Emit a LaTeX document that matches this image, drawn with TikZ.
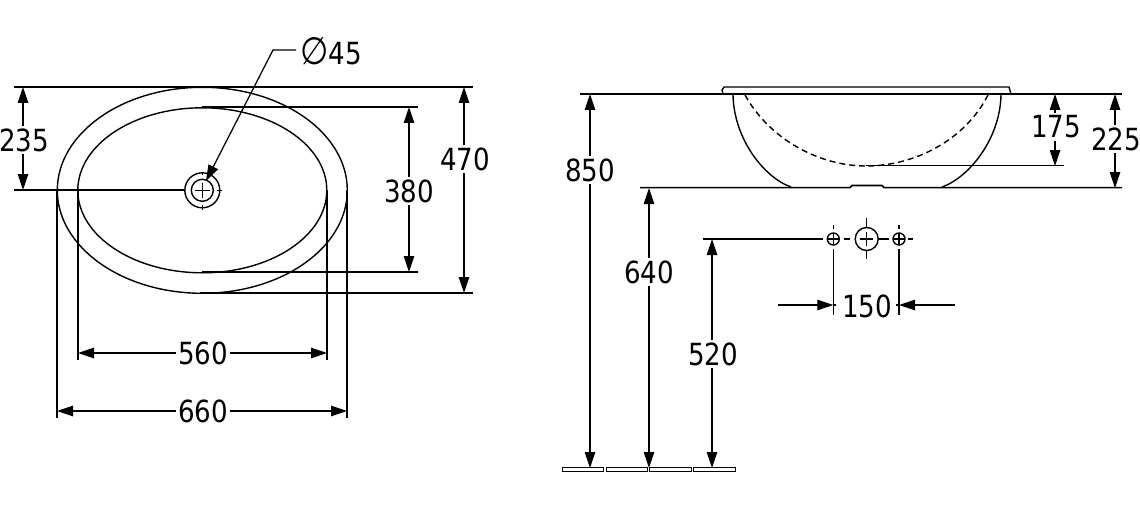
\documentclass[tikz,border=0pt]{standalone}
\usepackage{fontspec}
\setmainfont[FakeStretch=0.95]{DejaVu Sans Condensed}
\usetikzlibrary{arrows.meta}
\tikzset{
  x=1pt,y=-1pt,
  line/.style={draw=black,line width=1.4pt},
  dim/.style={draw=black,line width=1.25pt},
  dimarrow/.style={dim,{Triangle[length=16pt,width=10.5pt]}-{Triangle[length=16pt,width=10.5pt]}},
  onearrow/.style={dim,-{Triangle[length=16pt,width=10.5pt]}},
  lbl/.style={fill=white,inner sep=2.5pt,font=\fontsize{30.5}{30.5}\selectfont}
}
\begin{document}
\begin{tikzpicture}[line cap=butt]
\useasboundingbox (0,0) rectangle (1140,508);
% coordinates
\coordinate (tl1) at (14,87); \coordinate (tr1) at (473,87);
\coordinate (br1) at (473,293); \coordinate (b1) at (200,293);
\coordinate (t2) at (202,107); \coordinate (tr2) at (418,107);
\coordinate (b2) at (202,272); \coordinate (br2) at (418,272);
\coordinate (c) at (202.3,190.3); \coordinate (cl) at (14,190);
% plan
\draw[line] (c) ellipse [x radius=145,y radius=103];
\draw[line] (c) ellipse [x radius=124.5,y radius=82.5];
\draw[dim] (tl1) -- (tr1);
\draw[dim] (t2) -- (tr2);
\draw[dim] (b2) -- (br2);
\draw[dim] (b1) -- (br1);
\draw[dim] (cl) -- (184,190);
\draw[dim] (57,190) -- (57,418);
\draw[dim] (347,190) -- (347,418);
\draw[dim] (78,190) -- (78,360);
\draw[dim] (327,190) -- (327,360);
% waste
\draw[line] (c) circle (17.5);
\draw[line] (c) circle (11);
\draw[dim] (194.5,190.3) -- (210,190.3) (202.3,182.5) -- (202.3,198);
\draw[dim] (217,190.3) -- (222,190.3) (202.3,172) -- (202.3,175) (202.3,205) -- (202.3,210);
% leader
\coordinate (lead) at (273,50);
\coordinate (leadend) at (296,50);
\coordinate (tip) at (206,181);
\node[lbl,anchor=west,inner sep=0pt] (d45) at (300.5,51) {{\fontsize{38}{38}\selectfont ∅}45};
\draw[onearrow] (leadend) -- (lead) -- (tip);
% dims left
\draw[dimarrow] (23,87) -- (23,190);
\node[lbl] (n235) at (24,140) {235};
\draw[dimarrow] (409,107) -- (409,272);
\node[lbl] (n380) at (409,191) {380};
\draw[dimarrow] (464,87) -- (464,293);
\node[lbl] (n470) at (465,159) {470};
\draw[dimarrow] (78,353) -- (327,353);
\node[lbl] (n560) at (203,353) {560};
\draw[dimarrow] (57,411) -- (347,411);
\node[lbl] (n660) at (203,411) {660};
% section
\draw[line] (723,94) -- (722,90) -- (724,87) -- (1009,87) -- (1011,94);
\draw[dim] (580,94) -- (1122,94);
\draw[line] (733,95) .. controls (734,140) and (765,178) .. (791,187);
\draw[line] (1001,95) .. controls (1000,140) and (968,178) .. (942,187);
\draw[line,dash pattern=on 6pt off 4pt] (745,95) .. controls (770,140) and (820,166) .. (866,166);
\draw[line,dash pattern=on 6pt off 4pt] (988,95) .. controls (965,140) and (915,166) .. (866,166);
\draw[line] (866,165.6) -- (1064,165.6);
\draw[line,line width=1.6pt] (640,187.6) -- (850,187.6) -- (852,185.5) -- (882,185.5) -- (884,187.6) -- (1122,187.6);
% section dims
\draw[dimarrow] (1055,94) -- (1055,166);
\node[lbl] (n175) at (1056,127) {175};
\draw[dimarrow] (1115,94) -- (1115,188);
\node[lbl] (n225) at (1116,139) {225};
\draw[dimarrow] (590,94) -- (590,468);
\node[lbl] (n850) at (590,170) {850};
\draw[dimarrow] (649,188) -- (649,468);
\node[lbl] (n640) at (649,272) {640};
\draw[dimarrow] (712,239) -- (712,468);
\node[lbl] (n520) at (713,354) {520};
% fittings
\draw[dim] (703,239) -- (823,239);
\draw[dim] (827,239) -- (839,239) (833.3,233) -- (833.3,245) (833.3,225) -- (833.3,229);
\draw[line] (833.3,239) circle (6);
\draw[dim] (844,239) -- (850,239);
\draw[line] (866.7,239) circle (11.5);
\draw[dim] (860,239) -- (873,239) (866.7,232) -- (866.7,246) (866.7,218) -- (866.7,227) (866.7,250.5) -- (866.7,259);
\draw[dim] (878,239) -- (889,239);
\draw[line] (899,239) circle (6);
\draw[dim] (893,239) -- (905,239) (899,233) -- (899,245) (899,225) -- (899,229) (908,239) -- (913,239);
\draw[dim] (833.3,249) -- (833.3,315);
\draw[dim] (899,249) -- (899,315);
\draw[onearrow] (778,305) -- (833.3,305);
\draw[onearrow] (955,305) -- (899,305);
\draw[dim] (833.3,305) -- (836,305) (896,305) -- (899,305);
\node[lbl,fill=none] (n150) at (867,306) {150};
% floor
\foreach \xa/\xb in {562.5/603,606.5/647.5,649.7/691,693.5/735}
  \draw[draw=black,line width=1pt] (\xa,467) rectangle (\xb,471.5);
\end{tikzpicture}
\end{document}
